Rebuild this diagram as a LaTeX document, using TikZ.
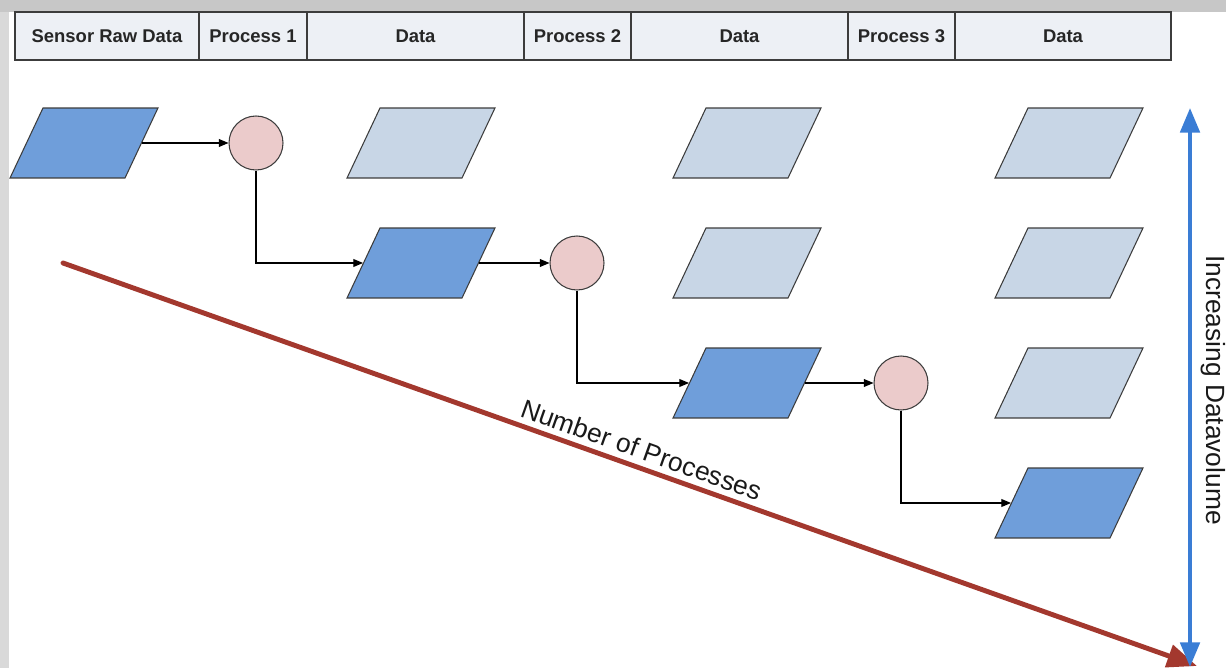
\documentclass[tikz,border=0pt]{standalone}
\usepackage{fontspec}
\setmainfont{Liberation Sans}
\usetikzlibrary{arrows.meta}

\definecolor{rawblue}{HTML}{6F9EDA}
\definecolor{lightdata}{HTML}{C8D6E6}
\definecolor{procpink}{HTML}{EBCBCB}
\definecolor{headfill}{HTML}{EDF0F5}
\definecolor{trendred}{HTML}{A3382E}
\definecolor{volblue}{HTML}{3A7DD5}
\definecolor{edgegray}{HTML}{3C3C3C}

\begin{document}
\begin{tikzpicture}[x=0.02cm, y=-0.02cm]
    \useasboundingbox (0,0) rectangle (1226,668);
    \fill[black!22] (0,0) rectangle (1226,12);
    \fill[black!15] (0,12) rectangle (9,668);

    \tikzset{HeadStyle/.style={draw=edgegray, line width=0.7pt, fill=headfill, minimum height=0.96cm, inner sep=0pt, text=black!85, font=\fontsize{10.5}{12}\selectfont\bfseries}}
    \node[HeadStyle, minimum width=3.68cm] (H1) at (107,36)   {Sensor Raw Data};
    \node[HeadStyle, minimum width=2.16cm] (H2) at (253,36)   {Process 1};
    \node[HeadStyle, minimum width=4.34cm] (H3) at (415.5,36) {Data};
    \node[HeadStyle, minimum width=2.14cm] (H4) at (577.5,36) {Process 2};
    \node[HeadStyle, minimum width=4.34cm] (H5) at (739.5,36) {Data};
    \node[HeadStyle, minimum width=2.14cm] (H6) at (901.5,36) {Process 3};
    \node[HeadStyle, minimum width=4.32cm] (H7) at (1063,36)  {Data};

    \tikzset{DataStyle/.style={rectangle, xslant=0.471, transform shape, minimum width=2.3cm, minimum height=1.4cm, inner sep=0pt, draw=edgegray, line width=0.6pt, fill=lightdata}}
    \node[DataStyle, fill=rawblue] (D11) at (84,143) {};

    \node[DataStyle] (D21) at (421,143) {};
    \node[DataStyle, fill=rawblue] (D22) at (421,263) {};

    \node[DataStyle] (D31) at (747,143) {};
    \node[DataStyle] (D32) at (747,263) {};
    \node[DataStyle, fill=rawblue] (D33) at (747,383) {};

    \node[DataStyle] (D41) at (1069,143) {};
    \node[DataStyle] (D42) at (1069,263) {};
    \node[DataStyle] (D43) at (1069,383) {};
    \node[DataStyle, fill=rawblue] (D44) at (1069,503) {};

    \tikzset{ProcStyle/.style={circle, minimum size=1.08cm, inner sep=0pt, draw=edgegray, line width=0.6pt, fill=procpink}}
    \node[ProcStyle] (P1) at (256,143) {};
    \node[ProcStyle] (P2) at (577,263) {};
    \node[ProcStyle] (P3) at (901,383) {};

    \tikzset{FlowStyle/.style={-{Triangle[length=5.5pt,width=4.5pt]}, line width=0.6pt, black}}
    \draw[FlowStyle] (D11.east) -- (P1.west);
    \draw[FlowStyle] (P1.south) |- (D22.west);
    \draw[FlowStyle] (D22.east) -- (P2.west);
    \draw[FlowStyle] (P2.south) |- (D33.west);
    \draw[FlowStyle] (D33.east) -- (P3.west);
    \draw[FlowStyle] (P3.south) |- (D44.west);

    \coordinate (TrendStart) at (63,263);
    \coordinate (TrendEnd) at (1197,666);
    \draw[trendred, line width=2.8pt, line cap=round, -{Triangle[length=17pt,width=13pt]}] (TrendStart) -- (TrendEnd)
        node[pos=0.505, sloped, above, text=black!90, font=\fontsize{15}{18}\selectfont] (LabelProc) {Number of Processes};

    \coordinate (VolTop) at (1190,108);
    \coordinate (VolBot) at (1190,667);
    \draw[volblue, line width=2.3pt, {Triangle[length=14pt,width=11pt]}-{Triangle[length=14pt,width=11pt]}] (VolTop) -- (VolBot);
    \node[rotate=-90, text=black!90, font=\fontsize{15}{18}\selectfont] (LabelVol) at (1213,390) {Increasing Datavolume};
\end{tikzpicture}
\end{document}
